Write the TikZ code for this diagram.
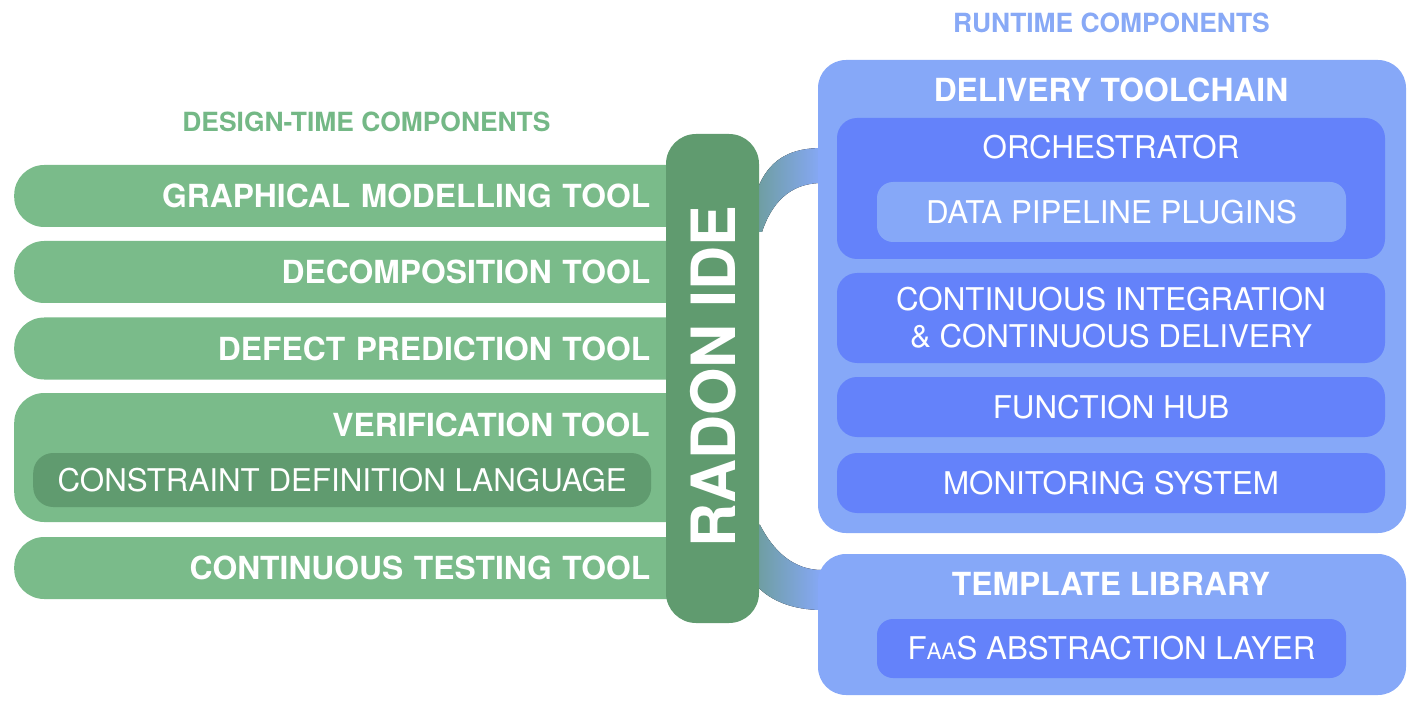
\documentclass[tikz,border=0pt]{standalone}
\usepackage{fontspec}
\setmainfont{TeX Gyre Heros}
\definecolor{lgreen}{HTML}{7ABB8A}
\definecolor{dgreen}{HTML}{609B6F}
\definecolor{tgreen}{HTML}{74B886}
\definecolor{lblue}{HTML}{86A8F8}
\definecolor{mblue}{HTML}{6482FA}
\definecolor{tblue}{HTML}{88A9F6}
\definecolor{linkc}{HTML}{6A9C90}
\newcommand\labfont{\fontsize{31.8}{38}\selectfont\bfseries}
\newcommand\regfont{\fontsize{31.3}{37}\selectfont}
\newcommand\ttlfont{\fontsize{26.4}{31}\selectfont\bfseries}
\newcommand\idefont{\fontsize{61}{70}\selectfont\bfseries}
\begin{document}
\begin{tikzpicture}[x=1pt,y=-1pt,
  bar/.style={fill=lgreen, rounded corners=30pt, minimum width=700pt, minimum height=62pt,
    inner xsep=64pt, inner ysep=0pt, text width=572pt, align=right, anchor=west,
    font=\labfont, text=white},
  boxbig/.style={fill=lblue, rounded corners=28pt, inner sep=0pt},
  boxmid/.style={fill=mblue, rounded corners=20pt, inner sep=0pt, font=\regfont, text=white},
  boxin/.style={rounded corners=16pt, inner sep=0pt, font=\regfont, text=white},
  heading/.style={font=\labfont, text=white, inner sep=0pt},
  regtext/.style={font=\regfont, text=white, inner sep=0pt},
  title/.style={font=\ttlfont, inner sep=0pt},
  link/.style={left color=linkc, right color=lblue}]
\useasboundingbox (0,0) rectangle (1419,711);

% connectors (behind)
\coordinate (c1a) at (760,183);
\coordinate (c1b) at (822,148);
\coordinate (c1c) at (822,183);
\coordinate (c1d) at (762,232);
\fill[link] (745,215) -- (c1a) .. controls (772,158) and (792,148) .. (c1b) -- (c1c)
  .. controls (796,183) and (774,196) .. (c1d) -- (745,232) -- cycle;
\coordinate (c2a) at (760,525);
\coordinate (c2b) at (822,570);
\coordinate (c2c) at (822,610);
\coordinate (c2d) at (758,587);
\fill[link] (745,520) -- (c2a) .. controls (774,552) and (794,570) .. (c2b) -- (c2c)
  .. controls (792,610) and (770,600) .. (c2d) -- (745,587) -- cycle;

% titles
\node[title, text=tgreen] (dtitle) at (366.5,122) {DESIGN-TIME COMPONENTS};
\node[title, text=tblue] (rtitle) at (1111.5,23) {RUNTIME COMPONENTS};

% design-time bars
\node[bar] (gmt) at (14,196) {GRAPHICAL MODELLING TOOL};
\node[bar] (dec) at (14,272) {DECOMPOSITION TOOL};
\node[bar] (dpt) at (14,348.5) {DEFECT PREDICTION TOOL};
\node[bar, minimum height=129pt] (ver) at (14,457.5) {};
\node[heading, anchor=east] (verl) at (650,425) {VERIFICATION TOOL};
\node[fill=dgreen, rounded corners=20pt, minimum width=618pt, minimum height=54pt,
  inner sep=0pt, anchor=west, font=\regfont, text=white] (cdl) at (33,480)
  {CONSTRAINT DEFINITION LANGUAGE};
\node[bar] (ctt) at (14,568) {CONTINUOUS TESTING TOOL};

% RADON IDE
\node[fill=dgreen, rounded corners=30pt, minimum width=93pt, minimum height=489pt,
  inner sep=0pt] (ide) at (712.5,378.5) {};
\node[rotate=90, font=\idefont, text=white, inner sep=0pt] (idet) at (713,376.5) {RADON IDE};

% runtime components
\node[boxbig, minimum width=588pt, minimum height=473pt] (dtc) at (1112,296.5) {};
\node[heading] (dtct) at (1111,90) {DELIVERY TOOLCHAIN};
\node[boxmid, minimum width=548pt, minimum height=141pt] (orch) at (1111,188.5) {};
\node[regtext] (orcht) at (1111,147) {ORCHESTRATOR};
\node[boxin, fill=lblue, minimum width=469pt, minimum height=60pt] (dpp) at (1111.5,212)
  {DATA PIPELINE PLUGINS};
\node[boxmid, minimum width=548pt, minimum height=90pt, align=center] (cicd) at (1111,318)
  {CONTINUOUS INTEGRATION\\\& CONTINUOUS DELIVERY};
\node[boxmid, minimum width=548pt, minimum height=60pt] (fhub) at (1111,407) {FUNCTION HUB};
\node[boxmid, minimum width=548pt, minimum height=60pt] (mon) at (1111,483) {MONITORING SYSTEM};

\node[boxbig, minimum width=588pt, minimum height=141pt] (tpl) at (1112,624.5) {};
\node[heading] (tplt) at (1111,584) {TEMPLATE LIBRARY};
\node[boxin, fill=mblue, minimum width=469pt, minimum height=59pt] (faas) at (1111.5,648.5)
  {F{\fontsize{22.5}{26}\selectfont AA}S ABSTRACTION LAYER};
\end{tikzpicture}
\end{document}
